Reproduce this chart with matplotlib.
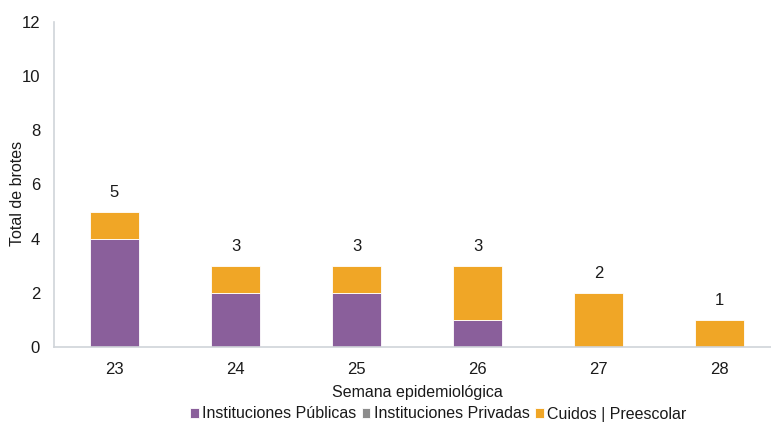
import matplotlib
matplotlib.use("Agg")
import matplotlib.pyplot as plt
import numpy as np

plt.rcParams['font.family'] = ['Liberation Sans', 'DejaVu Sans']

semanas = ["23", "24", "25", "26", "27", "28"]
publicas = [4, 2, 2, 1, 0, 0]
privadas = [0, 0, 0, 0, 0, 0]
cuidos = [1, 1, 1, 2, 2, 1]

c_pub = "#8A5F9B"
c_priv = "#8C8C8C"
c_cui = "#F0A626"
axis_col = "#D0D4D9"
txt = "#1a1a1a"

fig = plt.figure(figsize=(7.71, 4.22), dpi=100)
ax = fig.add_axes([54/771, 1-347/422, (780-54)/771, (347-22)/422])

x = np.arange(len(semanas))
w = 0.4
pub = np.array(publicas)
priv = np.array(privadas)
cui = np.array(cuidos)
ax.bar(x, pub, w, color=c_pub, edgecolor="white", linewidth=0.6, label="Instituciones Públicas")
ax.bar(x, priv, w, bottom=pub, color=c_priv, edgecolor="white", linewidth=0.6, label="Instituciones Privadas")
ax.bar(x, cui, w, bottom=pub+priv, color=c_cui, edgecolor="white", linewidth=0.6, label="Cuidos | Preescolar")

tot = pub + priv + cui
for xi, t in zip(x, tot):
    ax.text(xi, t + 0.72, str(t), ha="center", va="center", fontsize=12, color=txt)

ax.set_xlim(-0.5, 5.5)
ax.set_ylim(0, 12)
ax.set_yticks(range(0, 13, 2))
ax.set_xticks(x)
ax.set_xticklabels(semanas)
ax.tick_params(axis="both", length=0, labelsize=12, colors=txt)
ax.tick_params(axis="y", pad=10)
ax.tick_params(axis="x", pad=11)
for s in ["top", "right"]:
    ax.spines[s].set_visible(False)
for s in ["left", "bottom"]:
    ax.spines[s].set_color(axis_col)
    ax.spines[s].set_linewidth(1.2)

fig.text(18/771, 1-193/422, "Total de brotes", rotation=90, ha="center", va="center",
         fontsize=11.5, color=txt)
fig.text(417/771, 1-392/422, "Semana epidemiológica", ha="center", va="center", fontsize=11.5, color=txt)

leg = fig.legend(loc="center", bbox_to_anchor=(438/771, 1-414/422), ncol=3, frameon=False,
                 fontsize=11.5, handlelength=0.55, handleheight=0.55, handletextpad=0.2,
                 columnspacing=0.35, borderpad=0)
for t in leg.get_texts():
    t.set_color(txt)

fig.savefig("out.png", dpi=100)
